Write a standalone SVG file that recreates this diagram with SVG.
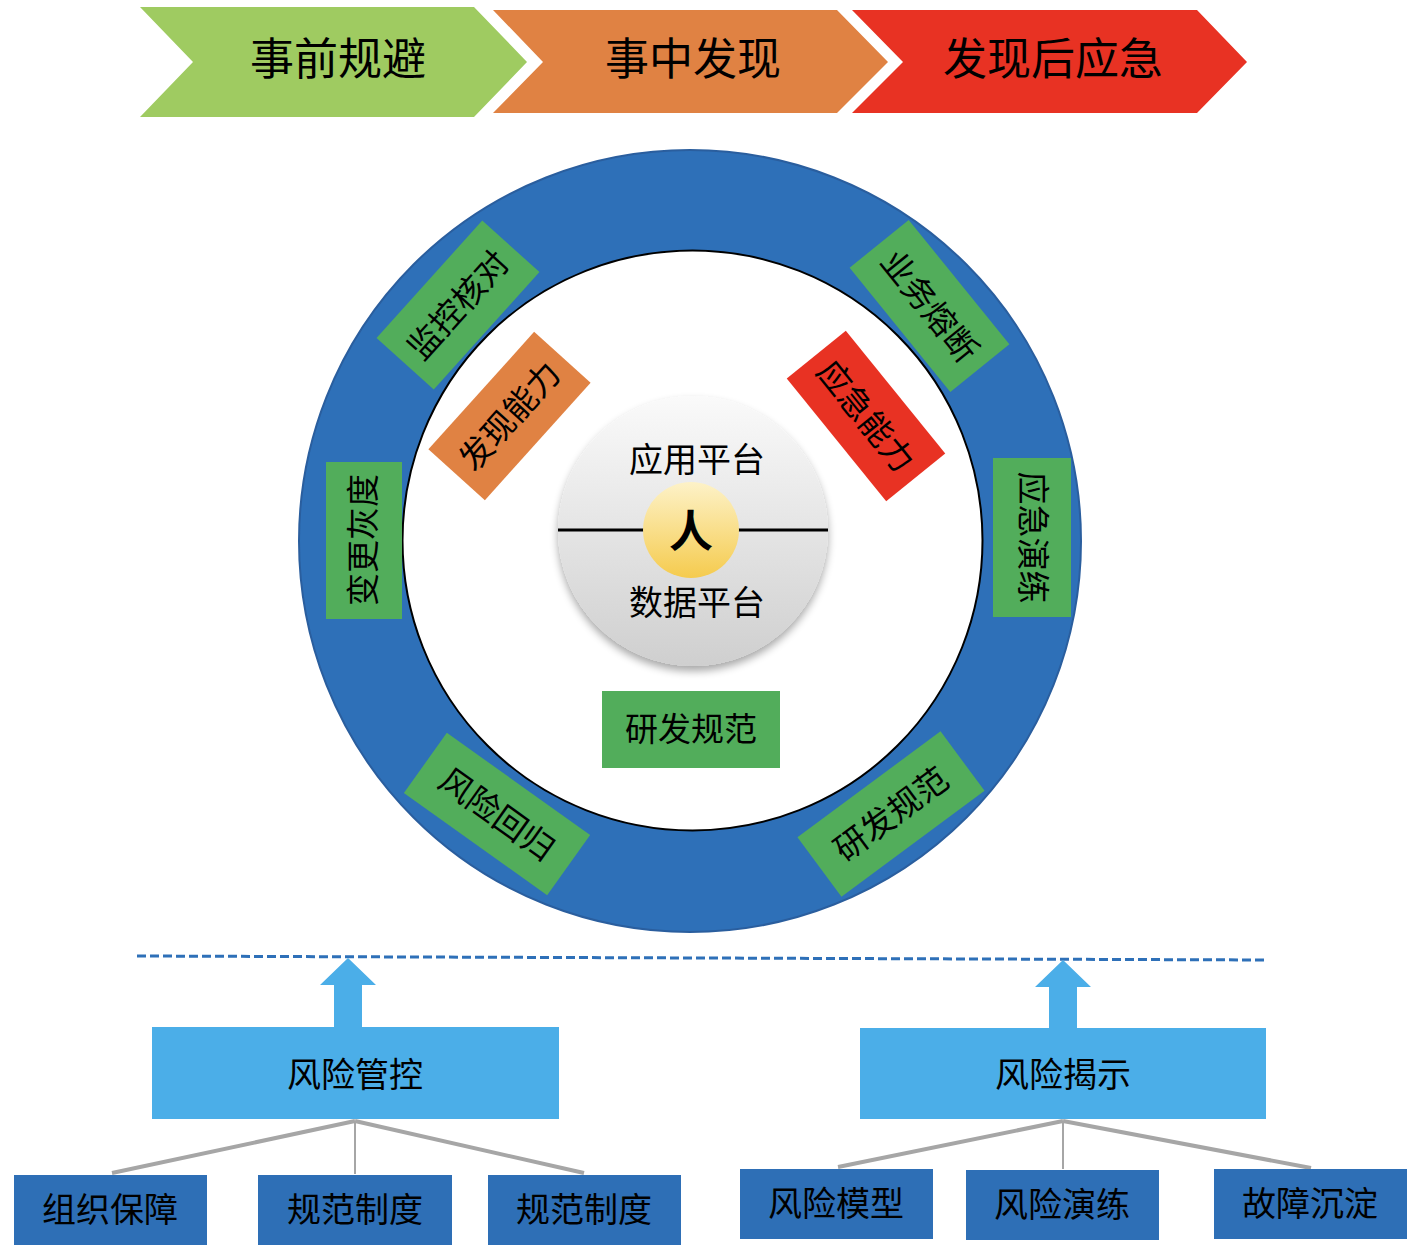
<svg xmlns="http://www.w3.org/2000/svg" width="1416" height="1254" viewBox="0 0 1416 1254">
<defs>
<style>
text{font-family:"Noto Sans CJK SC","Liberation Sans",sans-serif;fill:#000;text-anchor:middle;dominant-baseline:central}
.h{font-size:44px}
.l{font-size:33px}
.b{font-size:34px}
.g{fill:#52AD5B}
.lb{fill:#4BAEE8}
.db{fill:#2E6FB6}
.conn{stroke:#A6A6A6;fill:none}
</style>
<linearGradient id="sph" x1="0" y1="0" x2="0" y2="1">
<stop offset="0" stop-color="#FAFAFA"/>
<stop offset="1" stop-color="#CFCFCF"/>
</linearGradient>
<linearGradient id="yel" x1="0" y1="0" x2="0" y2="1">
<stop offset="0" stop-color="#FDF2C8"/>
<stop offset="1" stop-color="#F5CB4E"/>
</linearGradient>
<filter id="sh" x="-20%" y="-20%" width="140%" height="150%">
<feGaussianBlur in="SourceAlpha" stdDeviation="4"/>
<feOffset dy="5"/>
<feComponentTransfer><feFuncA type="linear" slope="0.35"/></feComponentTransfer>
<feMerge><feMergeNode/><feMergeNode in="SourceGraphic"/></feMerge>
</filter>
<filter id="bl"><feGaussianBlur stdDeviation="2"/></filter>
</defs>
<rect width="1416" height="1254" fill="#fff"/>

<g id="phase1"><polygon points="140,7 474,7 527,62 474,117 140,117 193,62" fill="#9FCB61"/><text class="h" x="338" y="56">事前规避</text></g>
<g id="phase2"><polygon points="493,10 837,10 888,62 837,113 493,113 543,62" fill="#E08243"/><text class="h" x="693" y="56">事中发现</text></g>
<g id="phase3"><polygon points="852,10 1197,10 1247,62 1197,113 852,113 903,62" fill="#E83223"/><text class="h" x="1053" y="56">发现后应急</text></g>

<g id="ring">
<circle cx="690" cy="541" r="391" fill="#2E70B8" stroke="#2A5E9E" stroke-width="2"/>
<circle cx="692.5" cy="540.5" r="290" fill="#fff" stroke="#000" stroke-width="2"/>
</g>

<g id="core">
<circle cx="693" cy="531" r="135" fill="url(#sph)" filter="url(#sh)"/>
<line x1="560" y1="537" x2="826" y2="537" stroke="#9A9A9A" stroke-width="4" filter="url(#bl)"/>
<line x1="558" y1="530" x2="828" y2="530" stroke="#000" stroke-width="3"/>
<circle cx="691" cy="530" r="48" fill="url(#yel)"/>
<text x="691" y="528" font-size="44" font-weight="bold">人</text>
<text class="b" x="697" y="457">应用平台</text>
<text class="b" x="697" y="600">数据平台</text>
</g>

<g id="n-biangeng"><rect class="g" x="326" y="462" width="76" height="157"/><text class="l" transform="translate(361,540) rotate(-90)">变更灰度</text></g>
<g id="n-jiankong"><g transform="translate(458,305) rotate(-48)"><rect class="g" x="-79" y="-38.5" width="158" height="77"/><text class="l" y="-2">监控核对</text></g></g>
<g id="n-faxian"><g transform="translate(509.5,416) rotate(-48)"><rect x="-79" y="-38" width="158" height="76" fill="#E08243"/><text class="l" y="-2">发现能力</text></g></g>
<g id="n-yewu"><g transform="translate(929.5,306) rotate(51)"><rect class="g" x="-80" y="-38" width="160" height="76"/><text class="l" y="-2">业务熔断</text></g></g>
<g id="n-yingji"><g transform="translate(866,416) rotate(51)"><rect x="-79" y="-38" width="158" height="76" fill="#E83223"/><text class="l" y="-2">应急能力</text></g></g>
<g id="n-yanlian"><rect class="g" x="993" y="458" width="78" height="159"/><text class="l" transform="translate(1035,537.5) rotate(90)">应急演练</text></g>
<g id="n-yanfa1"><rect class="g" x="602" y="691" width="178" height="77"/><text class="l" x="691" y="727">研发规范</text></g>
<g id="n-huigui"><g transform="translate(497,814) rotate(35.5)"><rect class="g" x="-88" y="-37" width="176" height="74"/><text class="l" y="-2">风险回归</text></g></g>
<g id="n-yanfa2"><g transform="translate(891,814) rotate(-36.5)"><rect class="g" x="-89" y="-37" width="178" height="74"/><text class="l" y="-2">研发规范</text></g></g>

<g id="connectors">
<line x1="137" y1="956" x2="1266" y2="960" stroke="#2E70B8" stroke-width="3" stroke-dasharray="9,4"/>
<polygon class="lb" points="334,1028 334,985 320,985 348,958 376,985 362,985 362,1028"/>
<polygon class="lb" points="1049,1029 1049,987 1035,987 1063,960 1091,987 1077,987 1077,1029"/>
<line class="conn" x1="355" y1="1121" x2="112" y2="1173" stroke-width="4"/>
<line class="conn" x1="355" y1="1121" x2="355" y2="1174" stroke-width="2"/>
<line class="conn" x1="355" y1="1121" x2="584" y2="1173" stroke-width="4"/>
<line class="conn" x1="1063" y1="1121" x2="838" y2="1167" stroke-width="4"/>
<line class="conn" x1="1063" y1="1121" x2="1063" y2="1169" stroke-width="2"/>
<line class="conn" x1="1063" y1="1121" x2="1311" y2="1168" stroke-width="4"/>
</g>

<g id="n-guankong"><rect class="lb" x="152" y="1027" width="407" height="92"/><text class="b" x="355" y="1072">风险管控</text></g>
<g id="n-jieshi"><rect class="lb" x="860" y="1028" width="406" height="91"/><text class="b" x="1063" y="1072">风险揭示</text></g>

<g id="n-zuzhi"><rect class="db" x="14" y="1175" width="193" height="70"/><text class="b" x="110" y="1207">组织保障</text></g>
<g id="n-guifan1"><rect class="db" x="258" y="1175" width="194" height="70"/><text class="b" x="355" y="1207">规范制度</text></g>
<g id="n-guifan2"><rect class="db" x="488" y="1175" width="193" height="70"/><text class="b" x="584" y="1207">规范制度</text></g>
<g id="n-moxing"><rect class="db" x="740" y="1169" width="193" height="70"/><text class="b" x="836" y="1201">风险模型</text></g>
<g id="n-yanlian2"><rect class="db" x="966" y="1170" width="193" height="70"/><text class="b" x="1062" y="1202">风险演练</text></g>
<g id="n-guzhang"><rect class="db" x="1214" y="1169" width="193" height="70"/><text class="b" x="1310" y="1201">故障沉淀</text></g>
</svg>
